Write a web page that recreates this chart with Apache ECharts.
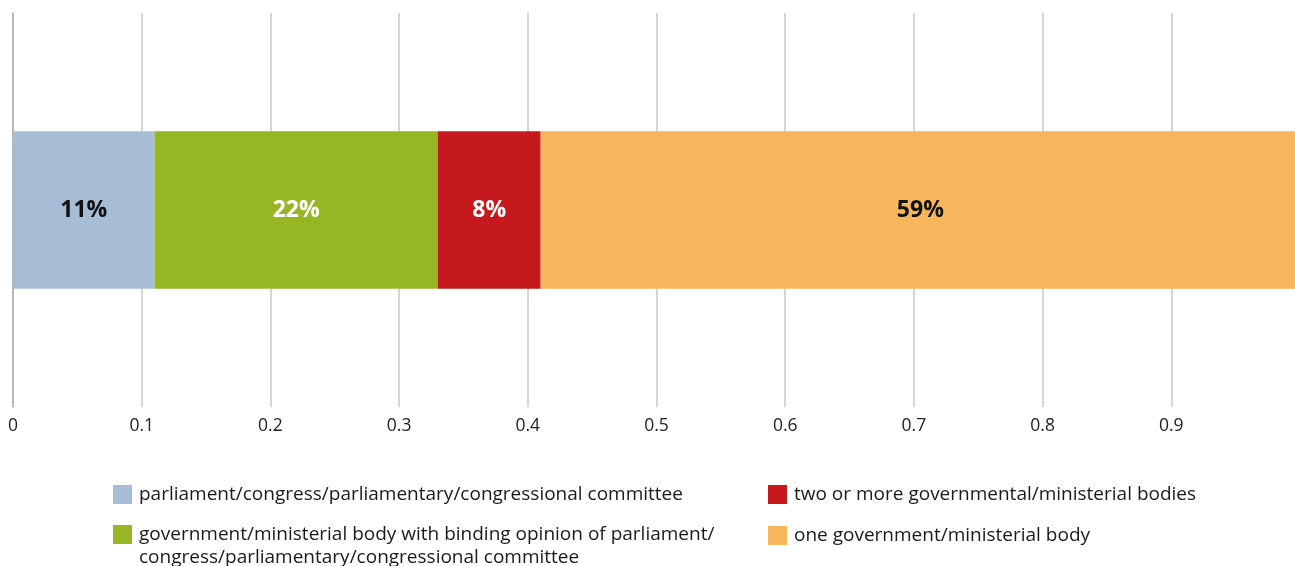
<!DOCTYPE html>
<html>
<head>
<meta charset="utf-8">
<title>Responsible bodies</title>
<script src="https://cdn.jsdelivr.net/npm/echarts@6/dist/echarts.min.js"></script>
<style>
  html, body { margin: 0; padding: 0; background: #fff; }
  #chart { width: 1295px; height: 566px; }
</style>
</head>
<body>
<div id="chart"></div>
<script>
// Share of responses per responsible body (stacked to 100%)
const categories = ['all'];
const seriesNames = [
  'parliament/congress/parliamentary/congressional committee',
  'government/ministerial body with binding opinion of parliament/\ncongress/parliamentary/congressional committee',
  'two or more governmental/ministerial bodies',
  'one government/ministerial body'
];
const seriesValues = [0.11, 0.22, 0.08, 0.59];
const seriesColors = ['#A7BDD6', '#96B624', '#C6191D', '#F7B55C'];
const labelColors = ['#111111', '#ffffff', '#ffffff', '#111111'];
const xTickLabels = ['0', '0.1', '0.2', '0.3', '0.4', '0.5', '0.6', '0.7', '0.8', '0.9'];

const FONT = '"Open Sans", "Noto Sans", sans-serif';

const series = seriesNames.map((name, i) => ({
  name: name,
  type: 'bar',
  stack: 'total',
  barWidth: '40%',
  data: [seriesValues[i]],
  itemStyle: { color: seriesColors[i] },
  label: {
    show: true,
    position: 'inside',
    formatter: p => Math.round(p.value * 100) + '%',
    color: labelColors[i],
    fontFamily: FONT,
    fontWeight: 'bold',
    fontSize: 23
  },
  emphasis: { disabled: true }
}));

// One legend block per entry so the two columns line up as laid out.
// The wrapped entry gets an empty leading line so its swatch sits on the first text line.
const legendPos = [
  { left: 113, top: 483 },
  { left: 113, top: 500 },
  { left: 768, top: 483 },
  { left: 768, top: 524 }
];
const legends = seriesNames.map((name, i) => ({
  data: [name],
  left: legendPos[i].left,
  top: legendPos[i].top,
  padding: 0,
  itemWidth: 19,
  itemHeight: 19,
  itemGap: 0,
  icon: 'rect',
  selectedMode: false,
  formatter: n => (n.indexOf('\n') >= 0 ? '\n' + n : n),
  textStyle: {
    fontFamily: FONT,
    fontSize: 19,
    lineHeight: 23,
    color: '#1a1a1a',
    padding: [0, 0, 0, 2]
  }
}));

const chart = echarts.init(document.getElementById('chart'), null, { renderer: 'canvas' });
chart.setOption({
  animation: false,
  legend: legends,
  grid: { left: 13, width: 1287, top: 13, height: 394, outerBoundsMode: 'none', containLabel: false },
  xAxis: {
    type: 'value',
    min: 0,
    max: 1,
    interval: 0.1,
    axisLine: { show: false },
    axisTick: { show: false },
    splitLine: { show: true, lineStyle: { color: '#c8c8c8', width: 1.5 } },
    axisLabel: {
      showMaxLabel: false,
      margin: 10,
      fontFamily: FONT,
      fontSize: 17.5,
      color: '#222',
      formatter: (v, idx) => xTickLabels[idx] !== undefined ? xTickLabels[idx] : ''
    }
  },
  yAxis: {
    type: 'category',
    data: categories,
    axisLine: { show: true, lineStyle: { color: '#ababab', width: 1.5 } },
    axisTick: { show: false },
    axisLabel: { show: false }
  },
  series: series
});
</script>
</body>
</html>
